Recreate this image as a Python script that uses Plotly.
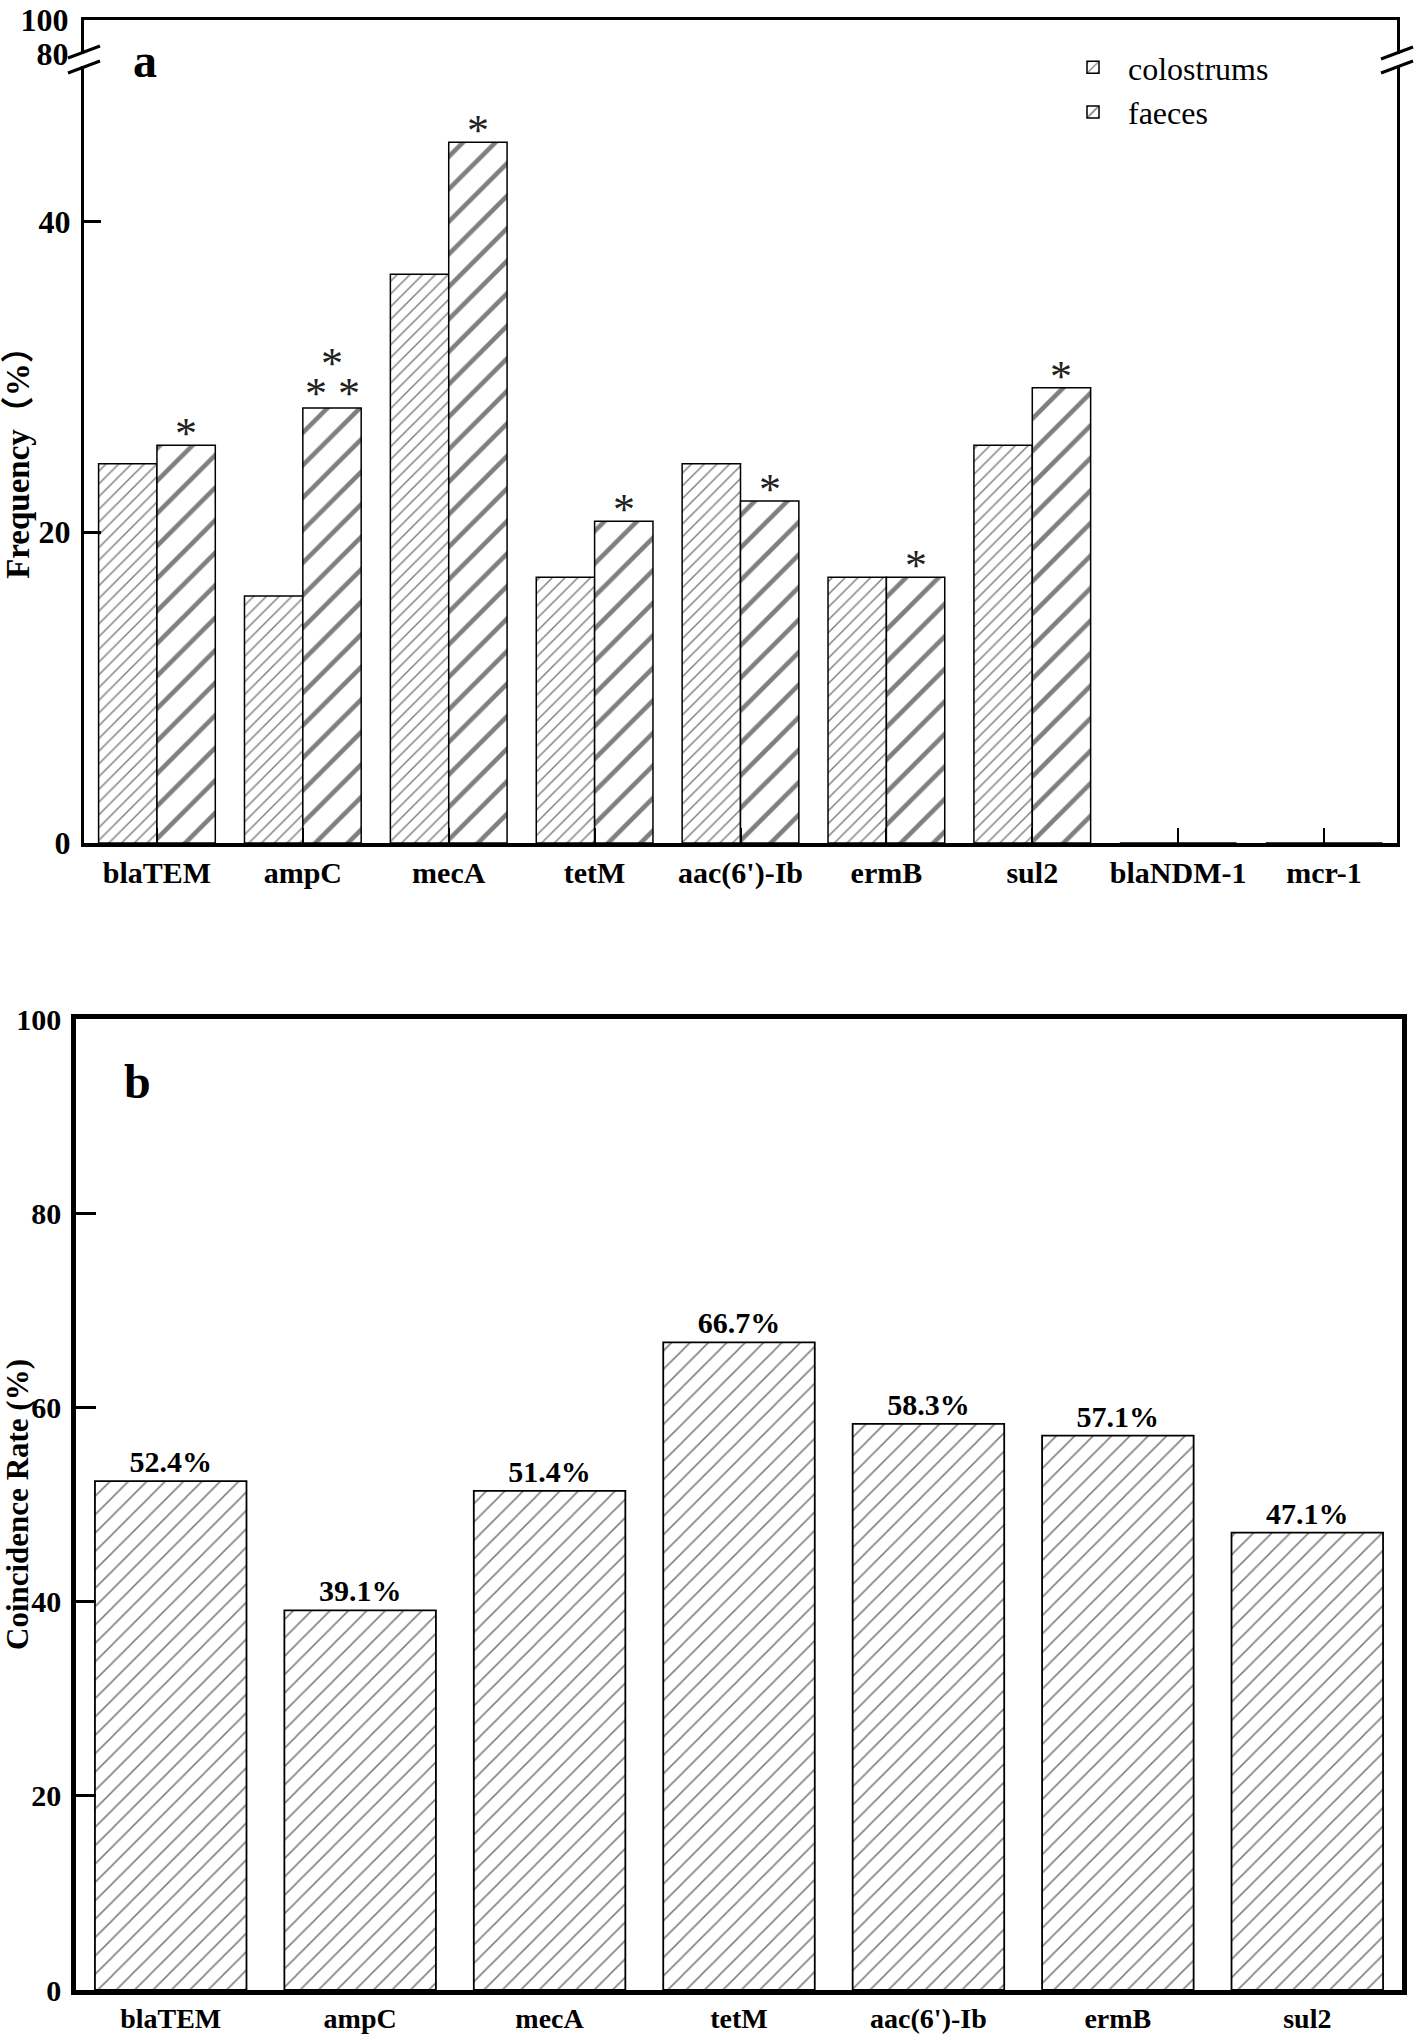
import plotly.graph_objects as go

# ---------------- data ----------------
genes_a = ["blaTEM", "ampC", "mecA", "tetM", "aac(6')-Ib", "ermB", "sul2", "blaNDM-1", "mcr-1"]
colostrums = [24.4, 15.9, 36.6, 17.1, 24.4, 17.1, 25.6, 0, 0]
faeces = [25.6, 28.0, 45.1, 20.7, 22.0, 17.1, 29.3, 0, 0]
stars = [1, 3, 1, 1, 1, 1, 1, 0, 0]

genes_b = ["blaTEM", "ampC", "mecA", "tetM", "aac(6')-Ib", "ermB", "sul2"]
coincidence = [52.4, 39.1, 51.4, 66.7, 58.3, 57.1, 47.1]

ticks_a_low = [0, 20, 40]
ticks_a_high = [80, 100]
ticks_b = [0, 20, 40, 60, 80, 100]

# ---------------- layout helpers ----------------
W, H = 1416, 2035
def px(x):
    return x / W
def py(y):
    return 1 - y / H

SERIF = "Liberation Serif, Times New Roman, serif"
SERIF_CJK = "Liberation Serif, Noto Sans CJK SC, serif"

fig = go.Figure()

fig.add_trace(go.Bar(
    x=genes_a, y=colostrums, name="colostrums", xaxis="x", yaxis="y",
    marker=dict(color="white", line=dict(color="black", width=1.5),
                pattern=dict(shape="/", size=9, solidity=0.16, fgcolor="black", bgcolor="white")),
))
fig.add_trace(go.Bar(
    x=genes_a, y=faeces, name="faeces", xaxis="x", yaxis="y",
    marker=dict(color="white", line=dict(color="black", width=1.5),
                pattern=dict(shape="/", size=23, solidity=0.2, fgcolor="black", bgcolor="white")),
))
# empty trace so that the upper (broken) segment of panel a is drawn
fig.add_trace(go.Scatter(x=[], y=[], xaxis="x2", yaxis="y2", showlegend=False,
                         hoverinfo="skip", mode="markers"))
fig.add_trace(go.Bar(
    x=genes_b, y=coincidence, name="coincidence", xaxis="x3", yaxis="y3", showlegend=False,
    marker=dict(color="white", line=dict(color="black", width=1.8),
                pattern=dict(shape="/", size=13, solidity=0.12, fgcolor="black", bgcolor="white")),
    texttemplate="%{y:.1f}%", textposition="outside", cliponaxis=False,
    textfont=dict(family=SERIF, size=30, color="black", weight="bold"),
))

# significance asterisks above faeces bars
annotations = []
starfont = dict(family=SERIF, size=44, color="#222")
for i, (n, v) in enumerate(zip(stars, faeces)):
    if n == 0:
        continue
    xc = i + 0.2
    if n == 1:
        annotations.append(dict(x=xc, y=v, xref="x", yref="y", text="*", showarrow=False,
                                yanchor="bottom", yshift=-15, font=starfont))
    else:
        annotations.append(dict(x=xc, y=v, xref="x", yref="y", text="* *", showarrow=False,
                                yanchor="bottom", yshift=-12, font=starfont))
        annotations.append(dict(x=xc, y=v, xref="x", yref="y", text="*", showarrow=False,
                                yanchor="bottom", yshift=18, font=starfont))

annotations.append(dict(x=px(131), y=py(60), xref="paper", yref="paper", text="<b>a</b>",
                        showarrow=False, yanchor="middle",
                        font=dict(family=SERIF, size=48, color="black")))
annotations.append(dict(x=px(122), y=py(1081), xref="paper", yref="paper", text="<b>b</b>",
                        showarrow=False, font=dict(family=SERIF, size=48, color="black")))

# axis-break marks (decorations)
shapes = []
for cx, cy in [(84, 52), (84, 67), (1397, 53), (1397, 67)]:
    shapes.append(dict(type="line", xref="paper", yref="paper",
                       x0=px(cx - 16), y0=py(cy + 6), x1=px(cx + 16), y1=py(cy - 6),
                       line=dict(color="black", width=3)))

tickfont_a = dict(family=SERIF, size=32, color="black", weight="bold")
xtickfont_a = dict(family=SERIF, size=30, color="black", weight="bold")

fig.update_layout(
    width=W, height=H,
    margin=dict(l=0, r=0, t=0, b=0),
    paper_bgcolor="white", plot_bgcolor="white",
    barmode="group", bargap=0.2, bargroupgap=0,
    showlegend=True,
    legend=dict(x=px(1058), y=py(40), xanchor="left", yanchor="top",
                font=dict(family=SERIF, size=32, color="black"),
                bgcolor="rgba(0,0,0,0)", tracegroupgap=0, itemwidth=60),
    annotations=annotations,
    shapes=shapes,
    # panel a, lower segment
    xaxis=dict(domain=[px(84), px(1397)], anchor="y", range=[-0.5, 8.5],
               showline=True, linecolor="black", linewidth=4, mirror=False,
               ticks="inside", ticklen=15, tickwidth=2, tickcolor="black",
               tickfont=xtickfont_a, showgrid=False, zeroline=False, automargin=False),
    yaxis=dict(domain=[py(843), py(66)], anchor="x", range=[0, 50],
               tickvals=ticks_a_low, showline=True, linecolor="black", linewidth=3, mirror=True,
               ticks="inside", ticklen=17, tickwidth=3, tickcolor="black",
               tickfont=tickfont_a, showgrid=False, zeroline=False, automargin=False,
               ticklabelstandoff=4,
               title=dict(text="<b>Frequency（%）</b>", standoff=0,
                          font=dict(family=SERIF_CJK, size=33, color="black"))),
    # panel a, upper segment
    xaxis2=dict(domain=[px(84), px(1397)], anchor="y2", range=[-0.5, 8.5],
                side="top", showline=True, linecolor="black", linewidth=3,
                showticklabels=False, ticks="", showgrid=False, zeroline=False, automargin=False),
    yaxis2=dict(domain=[py(54), py(20)], anchor="x2", range=[80, 100],
                tickvals=ticks_a_high, showline=True, linecolor="black", linewidth=3, mirror=True,
                ticks="", tickfont=tickfont_a, showgrid=False, zeroline=False, automargin=False,
                ticklabelstandoff=6, ticklabeloverflow="allow"),
    # panel b
    xaxis3=dict(domain=[px(76), px(1402)], anchor="y3", range=[-0.5, 6.5],
                showline=True, linecolor="black", linewidth=4.5, mirror=True,
                ticks="", tickfont=dict(family=SERIF, size=28, color="black", weight="bold"),
                ticklabelstandoff=0,
                showgrid=False, zeroline=False, automargin=False),
    yaxis3=dict(domain=[py(1990), py(1019)], anchor="x3", range=[0, 100],
                tickvals=ticks_b, showline=True, linecolor="black", linewidth=4.5, mirror=True,
                ticks="inside", ticklen=20, tickwidth=3, tickcolor="black",
                tickfont=dict(family=SERIF, size=30, color="black", weight="bold"),
                showgrid=False, zeroline=False, automargin=False, ticklabelstandoff=4,
                title=dict(text="<b>Coincidence Rate (%)</b>", standoff=4,
                           font=dict(family=SERIF, size=31, color="black"))),
)

fig.write_html("out.html", config={"displayModeBar": False},
               post_script="document.body.style.margin='0';")
